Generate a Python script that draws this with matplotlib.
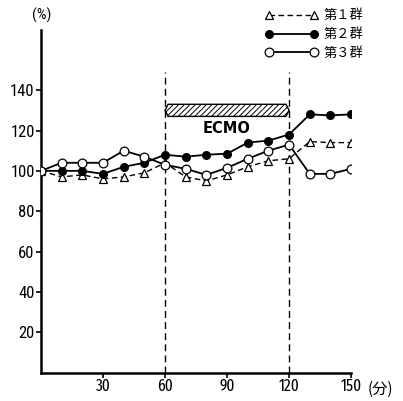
#!/usr/bin/env python
"""
plot.py
Relative change (%) of three groups before, during and after ECMO.
"""

import matplotlib
matplotlib.use('Agg')
import matplotlib.pyplot as plt
from matplotlib.patches import Polygon

# time points (min)
minutes = [0, 10, 20, 30, 40, 50, 60, 70, 80, 90, 100, 110, 120, 130, 140, 150]

# values in % of baseline
group1 = [100, 97, 98, 96, 97, 99, 104, 97, 95, 98, 102, 105, 106, 114.5, 114, 114]
group2 = [100, 100, 100, 98.5, 102, 104, 108, 107, 108, 108.5, 114, 115, 118, 128, 127.5, 128]
group3 = [100, 104, 104, 104, 110, 107, 103, 101, 98, 101.5, 106, 110, 113, 98.5, 98.5, 101]

labels = ['第１群', '第２群', '第３群']
x_ticks = [30, 60, 90, 120, 150]
y_ticks = [20, 40, 60, 80, 100, 120, 140]

ecmo_start, ecmo_end = 60, 120

Y_FONT = ['Roboto Condensed', 'DejaVu Sans']
X_FONT = ['Fira Sans Extra Condensed', 'Roboto Condensed', 'DejaVu Sans']
CJK_FONT = ['Noto Sans CJK JP', 'DejaVu Sans']


def draw_ecmo_bar(ax, y_low, y_high):
    """Hatched double-pointed bar marking the ECMO period."""
    mid = (y_low + y_high) / 2
    tip = 1.5
    pts = [(ecmo_start, mid), (ecmo_start + tip, y_high), (ecmo_end - tip, y_high),
           (ecmo_end, mid), (ecmo_end - tip, y_low), (ecmo_start + tip, y_low)]
    ax.add_patch(Polygon(pts, closed=True, facecolor='white', edgecolor='black',
                         hatch='//////', linewidth=1.0, zorder=3))
    ax.text((ecmo_start + ecmo_end) / 2, y_low - 2.5, 'ECMO', ha='center', va='top',
            fontsize=10.5, fontweight='bold', family=['DejaVu Sans'])


def main():
    plt.rcParams['hatch.linewidth'] = 0.7
    fig = plt.figure(figsize=(4.03, 4.01), dpi=100)
    ax = fig.add_axes([0.1017, 0.071, 0.7695, 0.855])

    ax.plot(minutes, group1, 'k--', marker='^', markersize=5.5, markerfacecolor='white',
            markeredgewidth=0.9, linewidth=1.0, dashes=(4, 2.5), label=labels[0], zorder=4)
    ax.plot(minutes, group2, 'k-', marker='o', markersize=5.5, markerfacecolor='black',
            linewidth=1.3, label=labels[1], zorder=5)
    ax.plot(minutes, group3, 'k-', marker='o', markersize=6.3, markerfacecolor='white',
            markeredgewidth=0.9, linewidth=1.3, label=labels[2], zorder=6)

    # ECMO start / end markers
    for t in (ecmo_start, ecmo_end):
        ax.plot([t, t], [0, 149], color='black', linestyle=(0, (5, 3)), linewidth=1.0,
                zorder=2)

    draw_ecmo_bar(ax, 127, 133)

    ax.set_xlim(0, 150)
    ax.set_ylim(0, 170)
    ax.set_xticks(x_ticks)
    ax.set_yticks(y_ticks)
    for lab in ax.get_yticklabels():
        lab.set_family(Y_FONT)
        lab.set_fontsize(12)
    for lab in ax.get_xticklabels():
        lab.set_family(X_FONT)
        lab.set_fontsize(12)
    ax.tick_params(direction='out', length=3.5, width=1.2, pad=1.0)

    for side in ('top', 'right'):
        ax.spines[side].set_visible(False)
    for side in ('left', 'bottom'):
        ax.spines[side].set_linewidth(1.8)

    fig.text(0.104, 0.963, '(%)', ha='center', va='center', fontsize=11, family=Y_FONT)
    fig.text(0.943, 0.028, '(分)', ha='center', va='center', fontsize=11, family=CJK_FONT)

    ax.legend(loc='upper left', bbox_to_anchor=(0.635, 1.0),
              bbox_transform=fig.transFigure, frameon=False, numpoints=2,
              handlelength=4.0, handletextpad=0.4, labelspacing=0.45,
              prop={'family': CJK_FONT, 'size': 9.5}, borderaxespad=0.3)

    plt.savefig('out.png', dpi=100)
    plt.close('all')


if __name__ == "__main__":
    main()
